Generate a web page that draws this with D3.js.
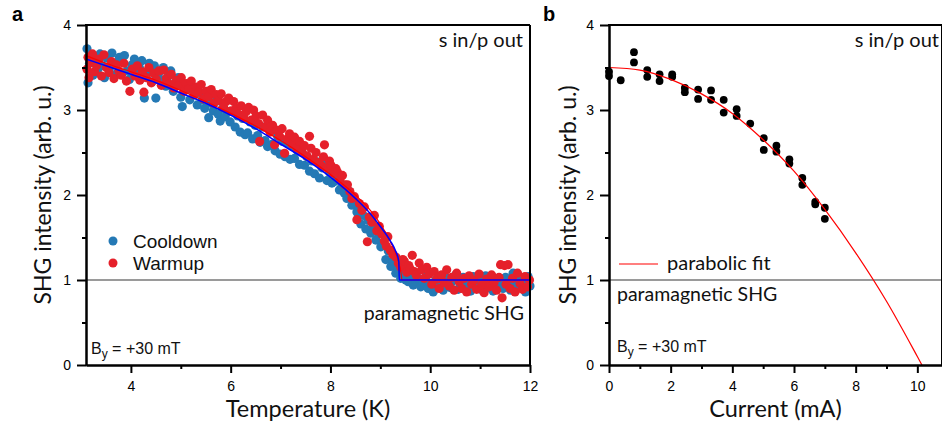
<!DOCTYPE html>
<html>
<head>
<meta charset="utf-8">
<script src="https://cdn.jsdelivr.net/npm/d3@7/dist/d3.min.js"></script>
<style>
	body { margin: 0; background: #fff; }
	svg { display: block; }
	.tick text { font-family: 'Liberation Sans', Arial, sans-serif; font-size: 14px; fill: #000; }
	.calib { font-family: Lato, 'Open Sans', sans-serif; fill: #111; }
	.arial { font-family: 'Liberation Sans', Arial, sans-serif; fill: #111; }
</style>
</head>
<body>
<div class="view-container"></div>
<script>
'use strict';

// panel a: cooldown / warmup temperature sweeps
var coolT = [3.12,3.14,3.17,3.20,3.24,3.28,3.33,3.38,3.42,3.47,3.52,3.57,3.62,3.67,3.72,3.77,3.82,3.87,3.92,3.97,
	4.02,4.07,4.12,4.17,4.22,4.27,4.32,4.37,4.42,4.47,4.50,4.55,4.60,4.65,4.70,4.75,4.80,4.85,4.90,4.95,
	5.00,5.03,5.08,5.13,5.18,5.23,5.28,5.33,5.38,5.43,5.48,5.53,5.56,5.60,5.65,5.70,5.75,5.79,5.84,5.89,5.94,5.99,
	6.04,6.09,6.14,6.19,6.24,6.29,6.34,6.39,6.44,6.49,6.54,6.59,6.64,6.69,6.74,6.79,6.84,6.89,6.94,6.99,
	7.04,7.09,7.14,7.19,7.24,7.28,7.33,7.38,7.43,7.48,7.53,7.58,7.63,7.68,7.73,7.78,7.83,7.88,7.93,7.98,
	8.03,8.08,8.13,8.18,8.23,8.28,8.33,8.38,8.43,8.48,8.53,8.58,8.61,8.66,8.71,8.76,8.81,8.86,8.91,8.96,
	9.01,9.06,9.11,9.16,9.21,9.26,9.31,9.36,9.41,9.46,9.51,9.56,9.61,9.66,9.71,9.76,9.81,9.86,9.91,9.96,
	10.01,10.06,10.11,10.16,10.21,10.26,10.31,10.36,10.41,10.46,10.51,10.56,10.61,10.66,10.71,10.76,10.81,10.86,10.91,10.96,
	11.01,11.06,11.11,11.16,11.21,11.26,11.31,11.36,11.41,11.46,11.51,11.56,11.61,11.66,11.71,11.76,11.81,11.86,11.91,11.96,12.00];
var coolI = [3.72,3.32,3.55,3.63,3.41,3.58,3.47,3.66,3.52,3.38,3.61,3.49,3.67,3.55,3.43,3.62,3.58,3.64,3.46,3.36,
	3.53,3.60,3.41,3.50,3.58,3.14,3.44,3.55,3.33,3.52,3.14,3.42,3.35,3.50,3.28,3.40,3.46,3.22,3.33,3.38,
	3.15,3.04,3.30,3.24,3.12,3.28,3.18,3.06,3.21,3.12,3.02,3.15,2.91,3.08,2.99,3.10,2.95,2.87,3.02,2.92,2.98,2.86,
	2.98,2.80,2.93,2.74,2.90,2.71,2.73,2.86,2.66,2.82,2.70,2.62,2.80,2.64,2.57,2.75,2.60,2.52,2.69,2.48,
	2.63,2.45,2.61,2.42,2.57,2.43,2.53,2.36,2.50,2.35,2.45,2.28,2.40,2.25,2.39,2.20,2.32,2.39,2.17,2.27,
	2.14,2.16,2.22,2.06,2.10,2.02,1.96,2.04,1.88,1.93,1.80,1.85,1.66,1.76,1.60,1.70,1.55,1.63,1.47,1.55,
	1.39,1.44,1.24,1.34,1.16,1.22,1.08,1.14,1.02,1.07,1.00,0.98,1.04,0.94,0.99,1.02,0.92,0.97,1.03,0.90,
	0.95,0.86,1.00,0.93,1.05,0.88,0.97,1.02,0.91,0.99,1.06,0.89,0.95,1.03,0.92,0.98,0.87,1.04,0.94,1.00,
	0.89,0.96,1.05,0.91,0.98,0.87,1.02,0.94,0.99,0.90,1.03,0.95,0.88,1.08,0.93,1.00,0.91,0.97,0.86,1.04,0.93];

var warmT = [3.12,3.14,3.16,3.19,3.23,3.27,3.31,3.36,3.41,3.46,3.51,3.56,3.61,3.66,3.71,3.76,3.81,3.86,3.91,3.98,
	4.03,4.08,4.13,4.18,4.23,4.26,4.31,4.36,4.41,4.46,4.51,4.56,4.61,4.66,4.71,4.76,4.81,4.86,4.91,4.96,
	5.01,5.06,5.11,5.16,5.21,5.26,5.31,5.36,5.41,5.46,5.51,5.56,5.61,5.66,5.71,5.76,5.81,5.86,5.91,5.96,
	6.01,6.06,6.11,6.16,6.21,6.26,6.31,6.36,6.41,6.46,6.51,6.56,6.58,6.64,6.69,6.74,6.79,6.84,6.88,6.93,6.98,
	7.03,7.08,7.13,7.18,7.23,7.28,7.33,7.38,7.43,7.48,7.53,7.58,7.61,7.66,7.71,7.76,7.81,7.86,7.88,7.93,7.98,
	8.01,8.06,8.11,8.14,8.19,8.24,8.29,8.34,8.39,8.43,8.48,8.53,8.58,8.63,8.68,8.74,8.78,8.83,8.88,8.93,8.98,
	9.03,9.08,9.12,9.15,9.20,9.25,9.31,9.36,9.41,9.45,9.48,9.53,9.57,9.60,9.64,9.68,9.72,9.78,9.83,9.88,9.93,9.98,
	10.03,10.08,10.13,10.18,10.23,10.28,10.33,10.38,10.43,10.48,10.53,10.58,10.63,10.68,10.73,10.78,10.83,10.88,10.93,10.98,
	11.03,11.08,11.13,11.18,11.23,11.28,11.33,11.38,11.41,11.44,11.49,11.52,11.56,11.60,11.65,11.70,11.75,11.80,11.85,11.90,11.95,11.99];
var warmI = [3.48,3.62,3.38,3.56,3.66,3.45,3.52,3.60,3.40,3.65,3.50,3.44,3.57,3.37,3.53,3.46,3.41,3.55,3.34,3.22,
	3.48,3.40,3.52,3.35,3.45,3.21,3.38,3.50,3.32,3.43,3.36,3.46,3.29,3.47,3.37,3.31,3.42,3.26,3.35,3.29,
	3.38,3.22,3.31,3.25,3.34,3.18,3.27,3.21,3.30,3.13,3.22,3.16,3.24,3.08,3.18,3.11,3.19,3.03,3.10,3.14,
	2.99,3.10,3.02,2.95,3.05,2.91,2.98,3.03,2.88,3.00,2.93,2.84,2.63,2.94,2.80,2.88,2.74,2.82,2.59,2.76,2.69,
	2.78,2.49,2.66,2.72,2.60,2.68,2.55,2.63,2.51,2.58,2.46,2.69,2.55,2.42,2.50,2.38,2.35,2.45,2.59,2.32,2.40,
	2.35,2.26,2.31,2.27,2.18,2.23,2.12,2.12,2.04,1.96,1.98,1.71,1.90,1.82,1.86,1.45,1.74,1.68,1.76,1.58,1.63,
	1.54,1.46,1.40,1.51,1.35,1.30,1.27,1.20,1.15,1.24,1.22,1.09,1.17,1.13,1.29,1.10,1.06,1.20,1.12,1.02,1.15,1.07,
	0.95,1.10,1.01,0.90,1.06,0.97,1.12,0.93,1.03,0.88,1.08,0.98,0.90,1.02,0.86,1.05,0.95,1.00,0.89,1.07,
	0.94,0.85,1.01,0.92,1.06,0.97,0.88,1.03,1.18,0.79,1.17,0.95,1.18,0.90,1.02,0.86,1.08,0.96,0.89,1.04,0.92,1.00];

// fitted order-parameter curves
var coolFitT = [3.1,3.5,4.0,4.5,5.0,5.5,6.0,6.5,7.0,7.5,8.0,8.5,8.8,9.0,9.2,9.3,9.37,9.38,12.0];
var coolFitI = [3.60,3.52,3.42,3.32,3.20,3.08,2.94,2.78,2.60,2.42,2.21,1.96,1.78,1.63,1.46,1.35,1.22,1.00,1.00];
var warmFitT = [3.1,3.5,4.0,4.5,5.0,5.5,6.0,6.5,7.0,7.5,8.0,8.5,8.8,9.0,9.2,9.35,9.42,9.43,12.0];
var warmFitI = [3.64,3.55,3.45,3.35,3.23,3.10,2.96,2.81,2.64,2.45,2.24,2.00,1.82,1.66,1.45,1.24,1.06,1.00,1.00];

// panel b: current sweep
var currentMA = [0.0,0.0,0.38,0.81,0.81,1.24,1.24,1.64,1.64,2.05,2.05,2.46,2.46,2.89,2.89,3.31,3.31,3.72,3.72,
	4.14,4.14,4.58,5.02,5.02,5.43,5.43,5.85,5.85,6.27,6.27,6.69,6.69,7.0,7.0];
var currentI = [3.45,3.40,3.35,3.68,3.56,3.47,3.39,3.42,3.34,3.42,3.39,3.26,3.21,3.24,3.13,3.23,3.12,3.12,2.97,
	3.01,2.93,2.84,2.67,2.53,2.58,2.51,2.42,2.37,2.20,2.12,1.92,1.89,1.85,1.72];
var parabFitX = [0,1,2,3,4,5,6,7,8,9,10,10.15];
var parabFitI = [3.50,3.47,3.36,3.19,2.96,2.65,2.28,1.83,1.32,0.75,0.10,0.0];

var yTicks = [0,1,2,3,4];
var yMinor = [0.5,1.5,2.5,3.5];
var tempTicks = [4,6,8,10,12];
var tempMinor = [5,7,9,11];
var currTicks = [0,2,4,6,8,10];
var currMinor = [1,3,5,7,9];

var BLUE = '#2479b5';
var RED = '#e5202a';
var GRAY = '#9a9a9a';

var svg = d3.select('.view-container').append('svg')
	.attr('width', 942)
	.attr('height', 433);

function zip(xs, ys) {
	return xs.map(function(x, i) { return [x, ys[i]]; });
}

function drawFrame(x, y, xTicks, xMinor, xTitle) {
	var g = svg.append('g');
	var x0 = x.range()[0], x1 = x.range()[1];
	var y0 = y.range()[0], y1 = y.range()[1];

	// minor ticks first, no labels
	g.append('g').attr('transform', 'translate(0,' + y0 + ')')
		.call(d3.axisBottom(x).tickValues(xMinor).tickSize(4).tickSizeOuter(0).tickFormat(''));
	g.append('g').attr('transform', 'translate(' + x0 + ',0)')
		.call(d3.axisLeft(y).tickValues(yMinor).tickSize(4).tickSizeOuter(0).tickFormat(''));

	g.append('g').attr('transform', 'translate(0,' + y0 + ')')
		.call(d3.axisBottom(x).tickValues(xTicks).tickSize(8).tickSizeOuter(0).tickPadding(8).tickFormat(d3.format('d')));
	g.append('g').attr('transform', 'translate(' + x0 + ',0)')
		.call(d3.axisLeft(y).tickValues(yTicks).tickSize(9).tickSizeOuter(0).tickPadding(6).tickFormat(d3.format('d')));

	g.selectAll('.domain, .tick line').attr('stroke', '#000').attr('stroke-width', 2);

	g.append('line').attr('x1', x0 - 1).attr('x2', x1).attr('y1', y1).attr('y2', y1)
		.attr('stroke', '#000').attr('stroke-width', 2);
	g.append('line').attr('x1', x1).attr('x2', x1).attr('y1', y1).attr('y2', y0)
		.attr('stroke', '#000').attr('stroke-width', 2);

	svg.append('text').attr('class', 'calib')
		.attr('x', (x0 + x1) / 2).attr('y', 417)
		.attr('text-anchor', 'middle')
		.style('font-size', '23.5px')
		.text(xTitle);
}

function yTitle(cx, cy) {
	svg.append('text').attr('class', 'calib')
		.attr('transform', 'translate(' + cx + ',' + cy + ') rotate(-90)')
		.attr('text-anchor', 'middle')
		.style('font-size', '23px')
		.text('SHG intensity (arb. u.)');
}

function grayLine(x, y) {
	svg.append('line')
		.attr('x1', x.range()[0]).attr('x2', x.range()[1])
		.attr('y1', y(1)).attr('y2', y(1))
		.attr('stroke', GRAY).attr('stroke-width', 2.2);
}

function byLabel(x, y) {
	var t = svg.append('text').attr('class', 'arial')
		.attr('x', x).attr('y', y)
		.style('font-size', '16px');
	t.append('tspan').text('B');
	t.append('tspan').attr('dy', 4).style('font-size', '12px').text('y');
	t.append('tspan').attr('dy', -4).text(' = +30 mT');
}

function label(x, y, txt, anchor, size) {
	return svg.append('text').attr('class', 'calib')
		.attr('x', x).attr('y', y)
		.attr('text-anchor', anchor)
		.style('font-size', size + 'px')
		.text(txt);
}

// ---------- panel a ----------
var xa = d3.scaleLinear().domain([3.1, 12]).range([86, 530]);
var ya = d3.scaleLinear().domain([0, 4]).range([365, 25]);

grayLine(xa, ya);

var dotsA = svg.append('g');
dotsA.selectAll('.cool').data(zip(coolT, coolI)).enter().append('circle')
	.attr('class', 'cool')
	.attr('cx', function(d) { return xa(d[0]); })
	.attr('cy', function(d) { return ya(d[1]); })
	.attr('r', 4.6)
	.style('fill', BLUE);
dotsA.selectAll('.warm').data(zip(warmT, warmI)).enter().append('circle')
	.attr('class', 'warm')
	.attr('cx', function(d) { return xa(d[0]); })
	.attr('cy', function(d) { return ya(d[1]); })
	.attr('r', 4.6)
	.style('fill', RED);

var lineA = d3.line()
	.x(function(d) { return xa(d[0]); })
	.y(function(d) { return ya(d[1]); });

svg.append('path').datum(zip(warmFitT, warmFitI))
	.attr('d', lineA.curve(d3.curveMonotoneX))
	.attr('fill', 'none').attr('stroke', '#ff0000').attr('stroke-width', 1.2);
svg.append('path').datum(zip(coolFitT, coolFitI))
	.attr('d', lineA.curve(d3.curveMonotoneX))
	.attr('fill', 'none').attr('stroke', '#0000ff').attr('stroke-width', 1.5);

drawFrame(xa, ya, tempTicks, tempMinor, 'Temperature (K)');
yTitle(51, 195);

svg.append('circle').attr('cx', 113).attr('cy', 241).attr('r', 4.5).style('fill', BLUE);
svg.append('circle').attr('cx', 113).attr('cy', 263).attr('r', 4.5).style('fill', RED);
svg.append('text').attr('class', 'arial').attr('x', 133).attr('y', 248).style('font-size', '19px').text('Cooldown');
svg.append('text').attr('class', 'arial').attr('x', 133).attr('y', 270).style('font-size', '19px').text('Warmup');

label(523, 47, 's in/p out', 'end', 20);
label(524, 320, 'paramagnetic SHG', 'end', 19.5);
byLabel(91, 354);

svg.append('text').attr('x', 12).attr('y', 21)
	.style('font-family', "'Liberation Sans', Arial, sans-serif")
	.style('font-weight', 'bold').style('font-size', '20px')
	.text('a');

// ---------- panel b ----------
var xb = d3.scaleLinear().domain([0, 10.8]).range([609, 942]);
var yb = d3.scaleLinear().domain([0, 4]).range([365, 25]);

grayLine(xb, yb);

svg.append('g').selectAll('circle').data(zip(currentMA, currentI)).enter().append('circle')
	.attr('cx', function(d) { return xb(d[0]); })
	.attr('cy', function(d) { return yb(d[1]); })
	.attr('r', 3.9)
	.style('fill', '#000');

svg.append('path').datum(zip(parabFitX, parabFitI))
	.attr('d', d3.line()
		.x(function(d) { return xb(d[0]); })
		.y(function(d) { return yb(d[1]); })
		.curve(d3.curveMonotoneX))
	.attr('fill', 'none').attr('stroke', '#ff0000').attr('stroke-width', 1.2);

drawFrame(xb, yb, currTicks, currMinor, 'Current (mA)');
yTitle(576, 195);

svg.append('line').attr('x1', 619).attr('x2', 658).attr('y1', 264).attr('y2', 264)
	.attr('stroke', '#ff0000').attr('stroke-width', 1.2);
label(667, 270, 'parabolic fit', 'start', 20);
label(617, 301, 'paramagnetic SHG', 'start', 19.5);
label(939, 47, 's in/p out', 'end', 20);
byLabel(617, 352);

svg.append('text').attr('x', 543).attr('y', 21)
	.style('font-family', "'Liberation Sans', Arial, sans-serif")
	.style('font-weight', 'bold').style('font-size', '20px')
	.text('b');
</script>
</body>
</html>
